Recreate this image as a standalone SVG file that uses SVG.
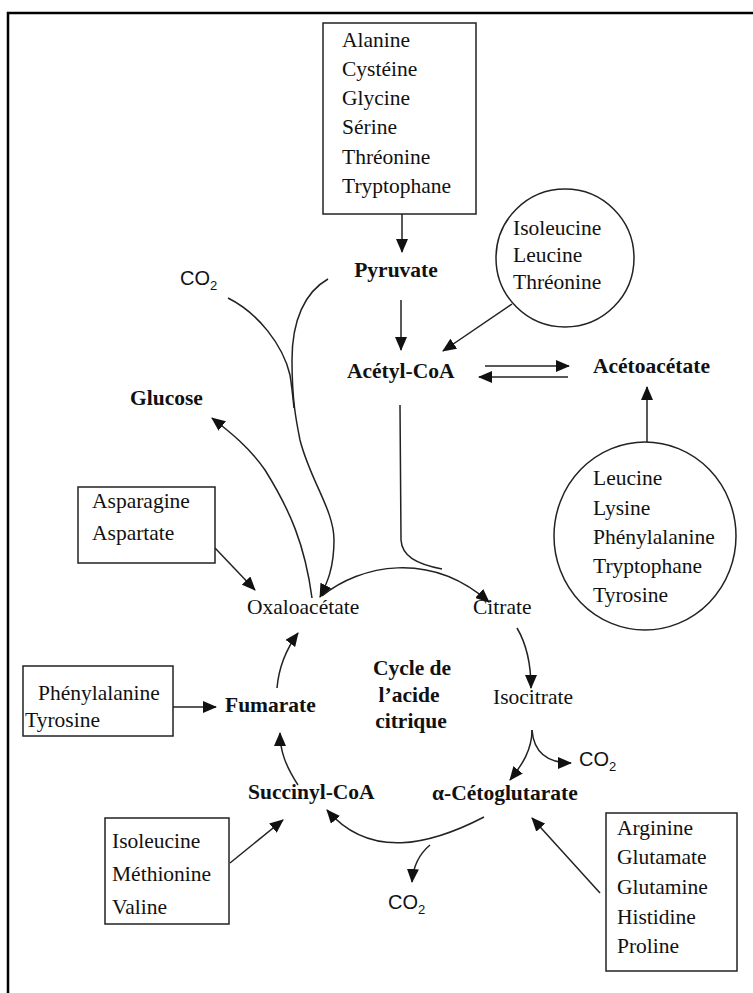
<svg xmlns="http://www.w3.org/2000/svg" width="753" height="993" viewBox="0 0 753 993">
<style>
text{font-family:"Liberation Serif","Times New Roman",serif;font-size:21.5px;fill:#111}
.b{font-weight:bold}
.co{font-family:"Liberation Sans",Arial,sans-serif;font-size:20px}
.sub{font-size:13px}
.box{fill:#fff;stroke:#222;stroke-width:1.5}
.ln{fill:none;stroke:#222;stroke-width:1.5}
.frame{fill:none;stroke:#000;stroke-width:2.5}
</style>
<defs>
<marker id="ah" markerUnits="userSpaceOnUse" markerWidth="14" markerHeight="12" refX="13" refY="6" orient="auto">
<path d="M0,0 L14,6 L0,12 Z" fill="#111"/>
</marker>
</defs>
<rect width="753" height="993" fill="#fff"/>
<path class="frame" d="M8,993 L8,13 L753,13"/>

<g id="connectors">
<path class="ln" d="M402,214 L402,252" marker-end="url(#ah)"/>
<path class="ln" d="M401,300 L401,350" marker-end="url(#ah)"/>
<path class="ln" d="M512,304 L443,351" marker-end="url(#ah)"/>
<path class="ln" d="M485,366 L569,366" marker-end="url(#ah)"/>
<path class="ln" d="M568,377 L479,377" marker-end="url(#ah)"/>
<path class="ln" d="M647,442 L647,387" marker-end="url(#ah)"/>
<path class="ln" d="M400,405 L401,540 C402,556 416,564 442,569"/>
<path class="ln" d="M322,596 C360,565 430,550 489,602" marker-end="url(#ah)"/>
<path class="ln" d="M328,279 C305,292 292,320 292,360 C292,400 296,420 300,440 C310,480 334,510 334,540 C334,570 326,585 320,597" marker-end="url(#ah)"/>
<path class="ln" d="M228,298 C258,313 283,345 290,375 C292,388 293,398 294,408"/>
<path class="ln" d="M312,598 C305,545 290,510 265,470 C250,448 230,432 212,418" marker-end="url(#ah)"/>
<path class="ln" d="M215,548 L255,590" marker-end="url(#ah)"/>
<path class="ln" d="M517,628 C527,645 531,665 531,688" marker-end="url(#ah)"/>
<path class="ln" d="M532,730 C532,750 522,765 510,780" marker-end="url(#ah)"/>
<path class="ln" d="M532,730 C534,755 550,763 571,763" marker-end="url(#ah)"/>
<path class="ln" d="M484,817 C430,845 370,860 327,810" marker-end="url(#ah)"/>
<path class="ln" d="M430,845 C418,855 413,868 412,882" marker-end="url(#ah)"/>
<path class="ln" d="M298,785 C285,765 280,750 280,733" marker-end="url(#ah)"/>
<path class="ln" d="M277,688 C279,665 287,648 298,633" marker-end="url(#ah)"/>
<path class="ln" d="M173,707 L216,707" marker-end="url(#ah)"/>
<path class="ln" d="M230,863 L283,820" marker-end="url(#ah)"/>
<path class="ln" d="M600,893 L532,818" marker-end="url(#ah)"/>
</g>

<g id="box-pyruvate-sources">
<rect class="box" x="323" y="23" width="153" height="191"/>
<text x="342" y="47">Alanine</text>
<text x="342" y="76">Cystéine</text>
<text x="342" y="105">Glycine</text>
<text x="342" y="134">Sérine</text>
<text x="342" y="164">Thréonine</text>
<text x="342" y="193">Tryptophane</text>
</g>

<g id="circle-acetylcoa-sources">
<circle class="box" cx="565" cy="258" r="69"/>
<text x="513" y="235">Isoleucine</text>
<text x="513" y="262">Leucine</text>
<text x="513" y="289">Thréonine</text>
</g>

<g id="circle-acetoacetate-sources">
<ellipse class="box" cx="645" cy="536" rx="91" ry="94"/>
<text x="593" y="485">Leucine</text>
<text x="593" y="515">Lysine</text>
<text x="593" y="544">Phénylalanine</text>
<text x="593" y="573">Tryptophane</text>
<text x="593" y="602">Tyrosine</text>
</g>

<g id="box-asparagine">
<rect class="box" x="78" y="487" width="137" height="76"/>
<text x="92" y="508">Asparagine</text>
<text x="92" y="540">Aspartate</text>
</g>

<g id="box-phenylalanine">
<rect class="box" x="23" y="666" width="150" height="70"/>
<text x="38" y="700">Phénylalanine</text>
<text x="25" y="727">Tyrosine</text>
</g>

<g id="box-isoleucine">
<rect class="box" x="105" y="818" width="124" height="106"/>
<text x="112" y="848">Isoleucine</text>
<text x="112" y="881">Méthionine</text>
<text x="112" y="914">Valine</text>
</g>

<g id="box-arginine">
<rect class="box" x="606" y="813" width="131" height="158"/>
<text x="617" y="835">Arginine</text>
<text x="617" y="864">Glutamate</text>
<text x="617" y="894">Glutamine</text>
<text x="617" y="924">Histidine</text>
<text x="617" y="953">Proline</text>
</g>

<g id="pyruvate"><text class="b" x="396" y="277" text-anchor="middle">Pyruvate</text></g>
<g id="acetylcoa"><text class="b" x="347" y="378">Acétyl-CoA</text></g>
<g id="acetoacetate"><text class="b" x="593" y="373">Acétoacétate</text></g>
<g id="glucose"><text class="b" x="130" y="405">Glucose</text></g>
<g id="co2-top"><text class="co" x="180" y="285">CO<tspan class="sub" dy="5">2</tspan></text></g>
<g id="oxaloacetate"><text x="247" y="614">Oxaloacétate</text></g>
<g id="citrate"><text x="473" y="614">Citrate</text></g>
<g id="isocitrate"><text x="493" y="704">Isocitrate</text></g>
<g id="co2-right"><text class="co" x="579" y="766">CO<tspan class="sub" dy="5">2</tspan></text></g>
<g id="cycle-label">
<text class="b" x="412" y="675" text-anchor="middle">Cycle de</text>
<text class="b" x="409" y="702" text-anchor="middle">l’acide</text>
<text class="b" x="411" y="728" text-anchor="middle">citrique</text>
</g>
<g id="fumarate"><text class="b" x="225" y="712">Fumarate</text></g>
<g id="succinylcoa"><text class="b" x="248" y="799">Succinyl-CoA</text></g>
<g id="alpha-cetoglutarate"><text class="b" x="432" y="800">α-Cétoglutarate</text></g>
<g id="co2-bottom"><text class="co" x="388" y="909">CO<tspan class="sub" dy="5">2</tspan></text></g>
</svg>
